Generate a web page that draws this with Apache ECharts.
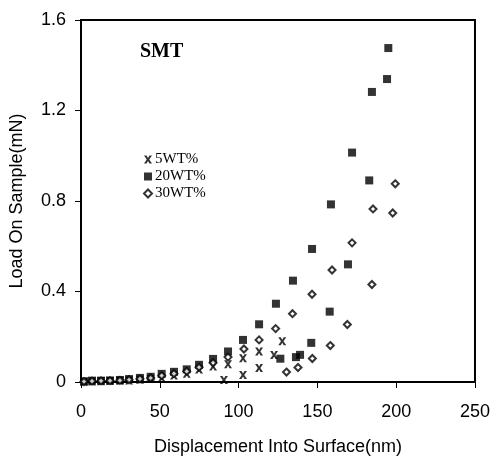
<!DOCTYPE html>
<html><head><meta charset="utf-8">
<script src="https://cdn.jsdelivr.net/npm/echarts@6/dist/echarts.min.js"></script>
<style>html,body{margin:0;padding:0;background:#fff}#c{width:493px;height:461px}</style>
</head><body><div id="c"></div>
<script>
// 5WT% (x marks)
const disp5 = [1.9, 7.0, 12.7, 18.4, 24.7, 30.5, 37.4, 44.2, 51.2, 59.0, 67.1, 74.9, 83.8, 93.3, 102.8, 113.0, 122.5, 127.7, 90.7, 102.8, 113.0];
const load5 = [0.001, 0.002, 0.003, 0.004, 0.005, 0.007, 0.010, 0.013, 0.018, 0.029, 0.037, 0.055, 0.068, 0.079, 0.105, 0.135, 0.119, 0.180, 0.009, 0.031, 0.062];
// 20WT% (squares)
const disp20 = [1.9, 7.0, 12.7, 18.4, 24.7, 30.5, 37.4, 44.2, 51.2, 59.0, 67.1, 74.9, 83.8, 93.3, 102.8, 113.0, 123.7, 134.5, 146.6, 158.6, 172.0, 184.6, 194.2, 195.0, 126.5, 136.4, 139.0, 146.1, 157.8, 169.4, 182.9];
const load20 = [0.003, 0.006, 0.006, 0.007, 0.009, 0.013, 0.018, 0.023, 0.036, 0.045, 0.056, 0.076, 0.102, 0.135, 0.186, 0.255, 0.346, 0.448, 0.588, 0.785, 1.014, 1.282, 1.339, 1.476, 0.103, 0.110, 0.120, 0.173, 0.311, 0.520, 0.891];
// 30WT% (diamonds)
const disp30 = [1.9, 7.0, 12.7, 18.4, 24.7, 30.5, 37.4, 44.2, 51.2, 59.0, 67.1, 74.9, 83.8, 93.3, 103.4, 113.0, 123.5, 134.2, 146.6, 159.3, 172.0, 185.3, 199.4, 130.4, 137.7, 146.8, 158.2, 169.0, 184.6, 197.8];
const load30 = [0.002, 0.004, 0.005, 0.006, 0.007, 0.010, 0.014, 0.018, 0.028, 0.037, 0.047, 0.065, 0.085, 0.110, 0.146, 0.186, 0.236, 0.302, 0.388, 0.495, 0.615, 0.765, 0.876, 0.044, 0.064, 0.104, 0.161, 0.254, 0.431, 0.747];

const seriesNames = ['5WT%', '20WT%', '30WT%'];
const xTicks = [0, 50, 100, 150, 200, 250];
const yTicks = [0, 0.4, 0.8, 1.2, 1.6];

const zip = (a, b) => a.map((v, i) => [v, b[i]]);
const xMark = 'path://M0,0H3.2L5,3.2L6.8,0H10L6.6,5L10,10H6.8L5,6.8L3.2,10H0L3.4,5Z';

const chart = echarts.init(document.getElementById('c'), null, {renderer: 'canvas'});
chart.setOption({
  animation: false,
  backgroundColor: '#fff',
  title: {
    text: 'SMT', left: 135, top: 37,
    textStyle: {fontFamily: 'Liberation Serif', fontWeight: 'bold', fontSize: 20, color: '#000'}
  },
  legend: {
    orient: 'vertical', left: 138, top: 147, itemGap: 2, itemWidth: 8, itemHeight: 8,
    data: seriesNames,
    textStyle: {fontFamily: 'Liberation Serif', fontSize: 15, color: '#000', padding: [0, 0, 0, -2]}
  },
  grid: {left: 81, right: 18, top: 20, bottom: 77, show: true, borderColor: '#000', borderWidth: 2, backgroundColor: 'transparent'},
  xAxis: {
    type: 'value', min: xTicks[0], max: xTicks[xTicks.length - 1], interval: 50,
    name: 'Displacement Into Surface(nm)', nameLocation: 'middle', nameGap: 56,
    nameTextStyle: {fontFamily: 'Liberation Sans', fontSize: 18, color: '#000'},
    axisLine: {lineStyle: {color: '#000', width: 2}},
    axisTick: {length: 6, lineStyle: {color: '#000'}},
    axisLabel: {margin: 21, fontFamily: 'Liberation Sans', fontSize: 18, color: '#000'},
    splitLine: {show: false}
  },
  yAxis: {
    type: 'value', min: yTicks[0], max: yTicks[yTicks.length - 1], interval: 0.4,
    name: 'Load On Sample(mN)', nameLocation: 'middle', nameGap: 55,
    nameTextStyle: {fontFamily: 'Liberation Sans', fontSize: 18, color: '#000'},
    axisLine: {lineStyle: {color: '#000', width: 2}},
    axisTick: {length: 6, lineStyle: {color: '#000'}},
    axisLabel: {margin: 15, fontFamily: 'Liberation Sans', fontSize: 18, color: '#000',
      formatter: v => (v === 0 ? '0' : v.toFixed(1))},
    splitLine: {show: false}
  },
  series: [
    {name: seriesNames[0], type: 'scatter', symbol: xMark, symbolSize: 8,
     itemStyle: {color: '#000'}, data: zip(disp5, load5), z: 3},
    {name: seriesNames[1], type: 'scatter', symbol: 'rect', symbolSize: 8,
     itemStyle: {color: '#000'}, data: zip(disp20, load20), z: 2},
    {name: seriesNames[2], type: 'scatter', symbol: 'diamond', symbolSize: 7,
     itemStyle: {color: '#fff', borderColor: '#000', borderWidth: 2}, data: zip(disp30, load30), z: 4}
  ]
});
</script></body></html>
